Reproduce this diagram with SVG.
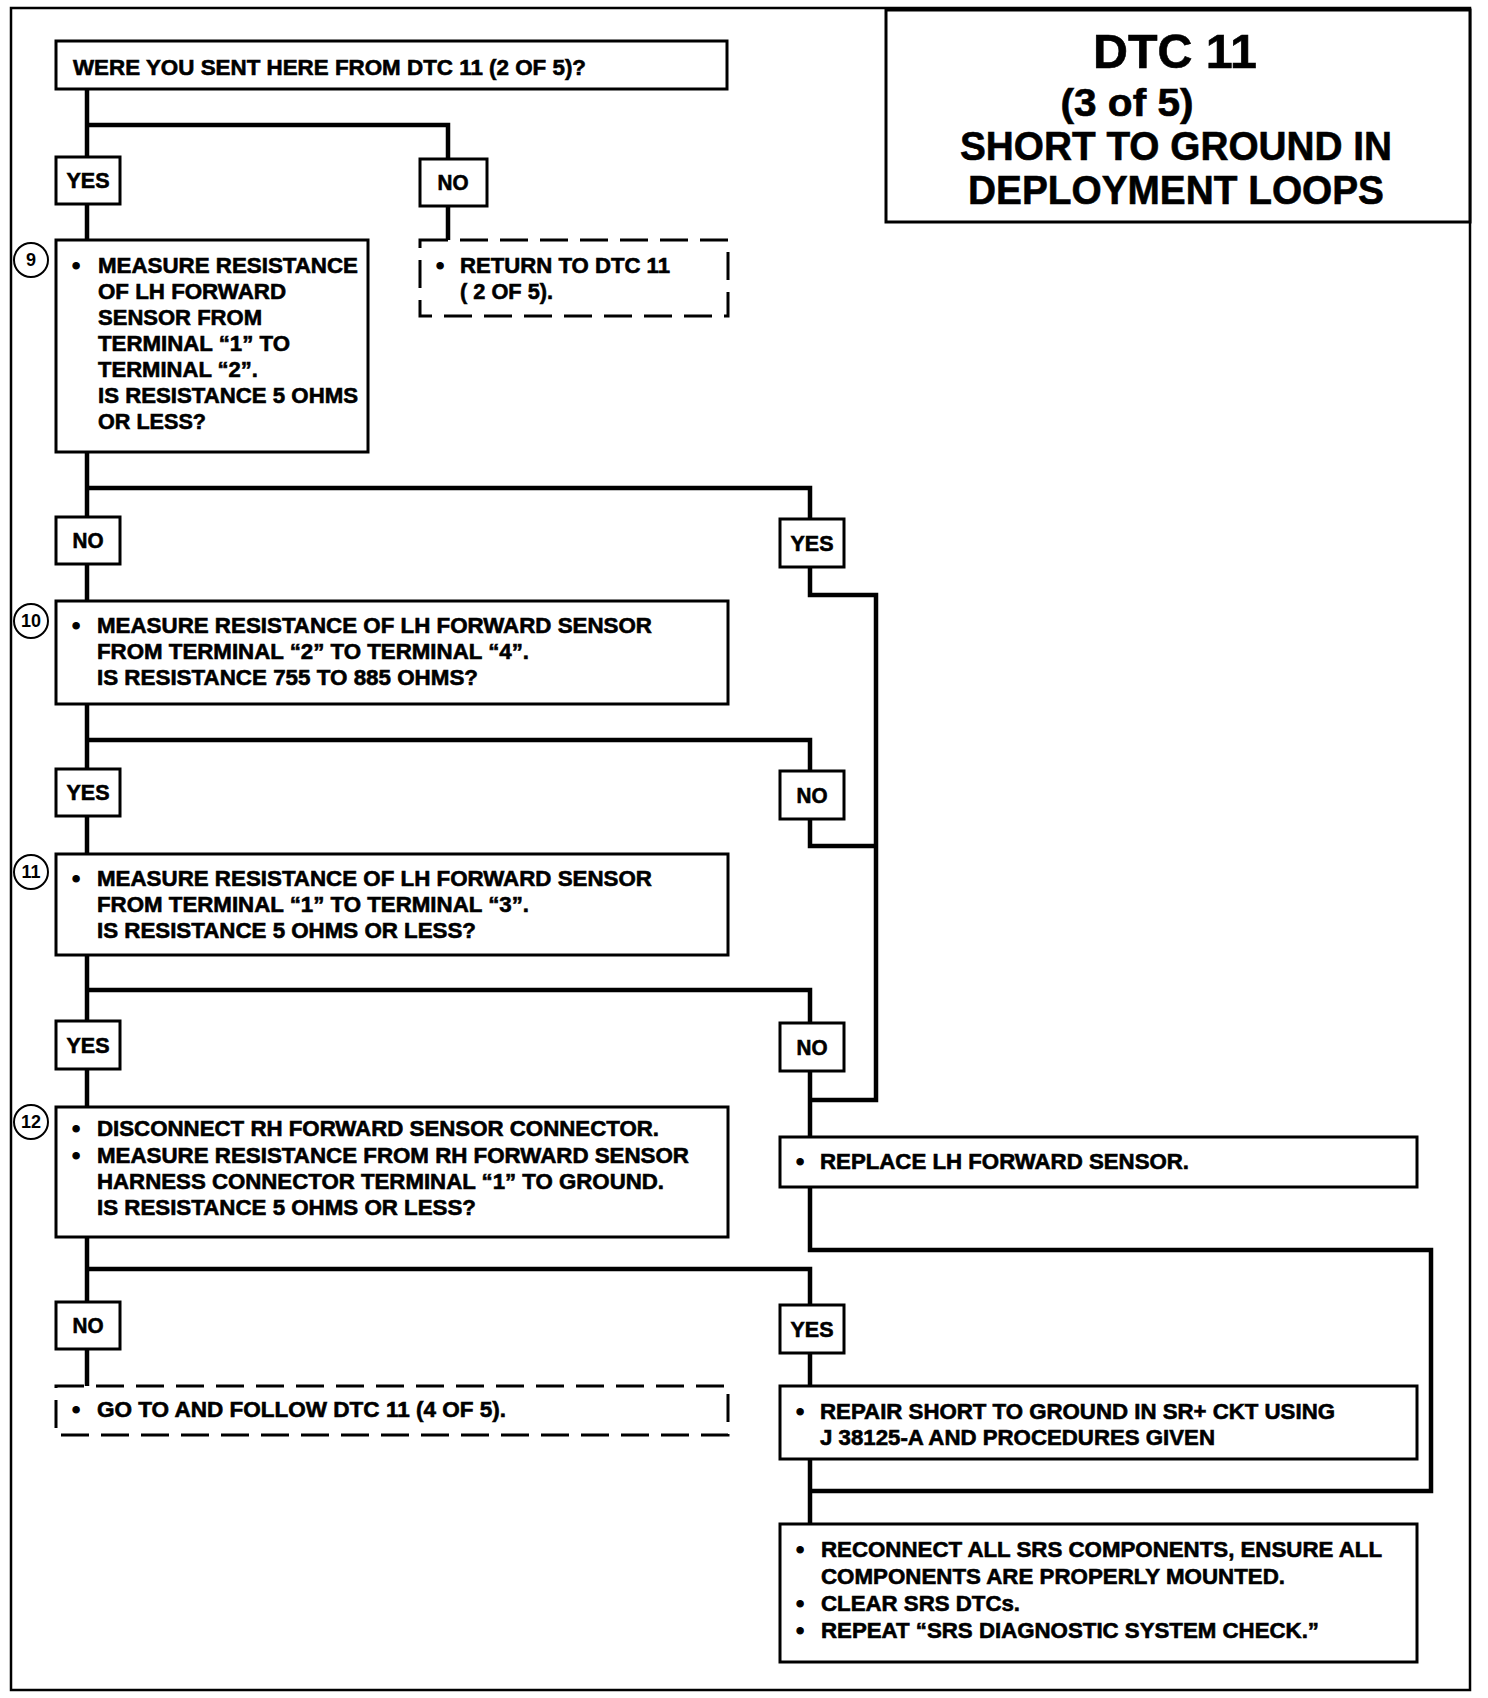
<svg xmlns="http://www.w3.org/2000/svg" width="1488" height="1698" viewBox="0 0 1488 1698">
<style>
.bx{fill:#fff;stroke:#000;stroke-width:3}
.dsh{fill:#fff;stroke:#000;stroke-width:3;stroke-dasharray:28 12}
.cn{fill:none;stroke:#000;stroke-width:4.5;stroke-linejoin:miter}
.t{font-family:"Liberation Sans",Arial,sans-serif;font-weight:bold;font-size:22px;fill:#000;stroke:#000;stroke-width:0.6}
.lb{font-family:"Liberation Sans",Arial,sans-serif;font-weight:bold;font-size:22px;fill:#000;stroke:#000;stroke-width:0.6;text-anchor:middle}
.bu{font-family:"Liberation Sans",Arial,sans-serif;font-weight:bold;font-size:22px;fill:#000;stroke:#000;stroke-width:1.2;text-anchor:middle}
.ti{font-family:"Liberation Sans",Arial,sans-serif;font-weight:bold;fill:#000;stroke:#000;stroke-width:0.6;text-anchor:middle}
.ci{fill:#fff;stroke:#000;stroke-width:2}
.cnum{font-family:"Liberation Sans",Arial,sans-serif;font-weight:bold;font-size:18px;fill:#000;text-anchor:middle}
</style>
<rect x="0" y="0" width="1488" height="1698" fill="#fff"/>
<rect id="frame" x="11" y="8" width="1459" height="1682" fill="none" stroke="#000" stroke-width="2.5"/>

<g id="connectors">
<path class="cn" d="M87,89 V157 M87,125 H448 V159"/>
<path class="cn" d="M87,204 V240 M448,206 V240"/>
<path class="cn" d="M87,452 V517 M87,488 H810 V519"/>
<path class="cn" d="M87,564 V601"/>
<path class="cn" d="M810,567 V595 H876 V1100 H810"/>
<path class="cn" d="M87,704 V769 M87,740 H810 V771"/>
<path class="cn" d="M810,819 V846 H876"/>
<path class="cn" d="M87,816 V854"/>
<path class="cn" d="M87,955 V1021 M87,990 H810 V1023"/>
<path class="cn" d="M87,1069 V1107"/>
<path class="cn" d="M810,1071 V1137"/>
<path class="cn" d="M87,1237 V1302 M87,1269 H810 V1305"/>
<path class="cn" d="M87,1349 V1386"/>
<path class="cn" d="M810,1353 V1386"/>
<path class="cn" d="M810,1187 V1250 H1431 V1491 H810"/>
<path class="cn" d="M810,1459 V1524"/>
</g>

<g id="title">
<rect class="bx" x="886" y="10" width="584" height="212"/>
<text class="ti" x="1175" y="68" font-size="48" textLength="164" lengthAdjust="spacingAndGlyphs">DTC 11</text>
<text class="ti" x="1127" y="116" font-size="38" textLength="133" lengthAdjust="spacingAndGlyphs">(3 of 5)</text>
<text class="ti" x="1176" y="160" font-size="41" textLength="432" lengthAdjust="spacingAndGlyphs">SHORT TO GROUND IN</text>
<text class="ti" x="1176" y="204" font-size="41" textLength="416" lengthAdjust="spacingAndGlyphs">DEPLOYMENT LOOPS</text>
</g>

<g id="q-start">
<rect class="bx" x="56" y="41" width="671" height="48"/>
<text class="t" x="73" y="75" textLength="513" lengthAdjust="spacingAndGlyphs">WERE YOU SENT HERE FROM DTC 11 (2 OF 5)?</text>
</g>

<g id="yes1"><rect class="bx" x="56" y="157" width="64" height="47"/><text class="lb" x="88" y="188" textLength="43" lengthAdjust="spacingAndGlyphs">YES</text></g>
<g id="no1"><rect class="bx" x="420" y="159" width="67" height="47"/><text class="lb" x="453" y="190" textLength="31" lengthAdjust="spacingAndGlyphs">NO</text></g>

<g id="step9">
<rect class="bx" x="56" y="240" width="312" height="212"/>
<circle class="ci" cx="31" cy="260" r="17"/><text class="cnum" x="31" y="266">9</text>
<text class="bu" x="76" y="273">•</text>
<text class="t" x="98" y="273" textLength="260" lengthAdjust="spacingAndGlyphs">MEASURE RESISTANCE</text>
<text class="t" x="98" y="299" textLength="188" lengthAdjust="spacingAndGlyphs">OF LH FORWARD</text>
<text class="t" x="98" y="325" textLength="164" lengthAdjust="spacingAndGlyphs">SENSOR FROM</text>
<text class="t" x="98" y="351" textLength="192" lengthAdjust="spacingAndGlyphs">TERMINAL “1” TO</text>
<text class="t" x="98" y="377" textLength="160" lengthAdjust="spacingAndGlyphs">TERMINAL “2”.</text>
<text class="t" x="98" y="403" textLength="260" lengthAdjust="spacingAndGlyphs">IS RESISTANCE 5 OHMS</text>
<text class="t" x="98" y="429" textLength="108" lengthAdjust="spacingAndGlyphs">OR LESS?</text>
</g>

<g id="return1">
<rect class="dsh" x="420" y="240" width="308" height="76"/>
<text class="bu" x="440" y="273">•</text>
<text class="t" x="460" y="273" textLength="210" lengthAdjust="spacingAndGlyphs">RETURN TO DTC 11</text>
<text class="t" x="460" y="299" textLength="93" lengthAdjust="spacingAndGlyphs">( 2 OF 5).</text>
</g>

<g id="no2"><rect class="bx" x="56" y="517" width="64" height="47"/><text class="lb" x="88" y="548" textLength="31" lengthAdjust="spacingAndGlyphs">NO</text></g>
<g id="yes2"><rect class="bx" x="780" y="519" width="64" height="48"/><text class="lb" x="812" y="551" textLength="43" lengthAdjust="spacingAndGlyphs">YES</text></g>

<g id="step10">
<rect class="bx" x="56" y="601" width="672" height="103"/>
<circle class="ci" cx="31" cy="621" r="17"/><text class="cnum" x="31" y="627">10</text>
<text class="bu" x="76" y="633">•</text>
<text class="t" x="97" y="633" textLength="555" lengthAdjust="spacingAndGlyphs">MEASURE RESISTANCE OF LH FORWARD SENSOR</text>
<text class="t" x="97" y="659" textLength="432" lengthAdjust="spacingAndGlyphs">FROM TERMINAL “2” TO TERMINAL “4”.</text>
<text class="t" x="97" y="685" textLength="381" lengthAdjust="spacingAndGlyphs">IS RESISTANCE 755 TO 885 OHMS?</text>
</g>

<g id="yes3"><rect class="bx" x="56" y="769" width="64" height="47"/><text class="lb" x="88" y="800" textLength="43" lengthAdjust="spacingAndGlyphs">YES</text></g>
<g id="no3"><rect class="bx" x="780" y="771" width="64" height="48"/><text class="lb" x="812" y="803" textLength="31" lengthAdjust="spacingAndGlyphs">NO</text></g>

<g id="step11">
<rect class="bx" x="56" y="854" width="672" height="101"/>
<circle class="ci" cx="31" cy="872" r="17"/><text class="cnum" x="31" y="878">11</text>
<text class="bu" x="76" y="886">•</text>
<text class="t" x="97" y="886" textLength="555" lengthAdjust="spacingAndGlyphs">MEASURE RESISTANCE OF LH FORWARD SENSOR</text>
<text class="t" x="97" y="912" textLength="432" lengthAdjust="spacingAndGlyphs">FROM TERMINAL “1” TO TERMINAL “3”.</text>
<text class="t" x="97" y="938" textLength="379" lengthAdjust="spacingAndGlyphs">IS RESISTANCE 5 OHMS OR LESS?</text>
</g>

<g id="yes4"><rect class="bx" x="56" y="1021" width="64" height="48"/><text class="lb" x="88" y="1053" textLength="43" lengthAdjust="spacingAndGlyphs">YES</text></g>
<g id="no4"><rect class="bx" x="780" y="1023" width="64" height="48"/><text class="lb" x="812" y="1055" textLength="31" lengthAdjust="spacingAndGlyphs">NO</text></g>

<g id="step12">
<rect class="bx" x="56" y="1107" width="672" height="130"/>
<circle class="ci" cx="31" cy="1122" r="17"/><text class="cnum" x="31" y="1128">12</text>
<text class="bu" x="76" y="1136">•</text>
<text class="t" x="97" y="1136" textLength="562" lengthAdjust="spacingAndGlyphs">DISCONNECT RH FORWARD SENSOR CONNECTOR.</text>
<text class="bu" x="76" y="1163">•</text>
<text class="t" x="97" y="1163" textLength="592" lengthAdjust="spacingAndGlyphs">MEASURE RESISTANCE FROM RH FORWARD SENSOR</text>
<text class="t" x="97" y="1189" textLength="567" lengthAdjust="spacingAndGlyphs">HARNESS CONNECTOR TERMINAL “1” TO GROUND.</text>
<text class="t" x="97" y="1215" textLength="379" lengthAdjust="spacingAndGlyphs">IS RESISTANCE 5 OHMS OR LESS?</text>
</g>

<g id="replace">
<rect class="bx" x="780" y="1137" width="637" height="50"/>
<text class="bu" x="800" y="1169">•</text>
<text class="t" x="820" y="1169" textLength="369" lengthAdjust="spacingAndGlyphs">REPLACE LH FORWARD SENSOR.</text>
</g>

<g id="no5"><rect class="bx" x="56" y="1302" width="64" height="47"/><text class="lb" x="88" y="1333" textLength="31" lengthAdjust="spacingAndGlyphs">NO</text></g>
<g id="yes5"><rect class="bx" x="780" y="1305" width="64" height="48"/><text class="lb" x="812" y="1337" textLength="43" lengthAdjust="spacingAndGlyphs">YES</text></g>

<g id="goto4">
<rect class="dsh" x="56" y="1386" width="672" height="49"/>
<text class="bu" x="76" y="1417">•</text>
<text class="t" x="97" y="1417" textLength="409" lengthAdjust="spacingAndGlyphs">GO TO AND FOLLOW DTC 11 (4 OF 5).</text>
</g>

<g id="repair">
<rect class="bx" x="780" y="1386" width="637" height="73"/>
<text class="bu" x="800" y="1419">•</text>
<text class="t" x="820" y="1419" textLength="515" lengthAdjust="spacingAndGlyphs">REPAIR SHORT TO GROUND IN SR+ CKT USING</text>
<text class="t" x="820" y="1445" textLength="395" lengthAdjust="spacingAndGlyphs">J 38125-A AND PROCEDURES GIVEN</text>
</g>

<g id="reconnect">
<rect class="bx" x="780" y="1524" width="637" height="138"/>
<text class="bu" x="800" y="1557">•</text>
<text class="t" x="821" y="1557" textLength="561" lengthAdjust="spacingAndGlyphs">RECONNECT ALL SRS COMPONENTS, ENSURE ALL</text>
<text class="t" x="821" y="1584" textLength="464" lengthAdjust="spacingAndGlyphs">COMPONENTS ARE PROPERLY MOUNTED.</text>
<text class="bu" x="800" y="1611">•</text>
<text class="t" x="821" y="1611" textLength="199" lengthAdjust="spacingAndGlyphs">CLEAR SRS DTCs.</text>
<text class="bu" x="800" y="1638">•</text>
<text class="t" x="821" y="1638" textLength="498" lengthAdjust="spacingAndGlyphs">REPEAT “SRS DIAGNOSTIC SYSTEM CHECK.”</text>
</g>
</svg>
